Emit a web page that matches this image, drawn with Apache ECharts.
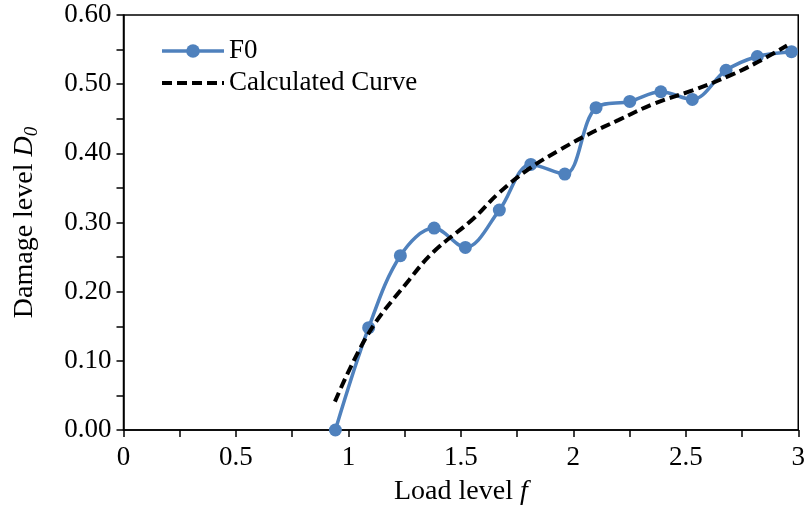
<!DOCTYPE html>
<html>
<head>
<meta charset="utf-8">
<script src="https://cdn.jsdelivr.net/npm/echarts@6/dist/echarts.min.js"></script>
<style>html,body{margin:0;padding:0;background:#fff}#c{width:808px;height:513px}</style>
</head>
<body>
<div id="c"></div>
<script>
// Measured F0 data: load level f, damage level D0
const f0X = [0.942, 1.090, 1.231, 1.381, 1.520, 1.671, 1.811, 1.962, 2.101, 2.251, 2.389, 2.529, 2.679, 2.818, 2.970];
const f0Y = [0.000, 0.148, 0.252, 0.292, 0.264, 0.318, 0.384, 0.370, 0.466, 0.475, 0.489, 0.478, 0.520, 0.540, 0.547];
// Calculated curve
const calcX = [0.94, 1.09, 1.27, 1.38, 1.55, 1.67, 1.80, 1.94, 2.07, 2.20, 2.36, 2.53, 2.70, 2.82, 2.95];
const calcY = [0.041, 0.140, 0.217, 0.258, 0.304, 0.343, 0.377, 0.405, 0.428, 0.448, 0.472, 0.491, 0.513, 0.532, 0.556];
const xTicks = { min: 0, max: 3, interval: 0.5 };
const yTicks = { min: 0, max: 0.6, interval: 0.1 };
const seriesNames = ['F0', 'Calculated Curve'];

const FONT = '"Liberation Serif", "Times New Roman", serif';
const BLUE = '#4F81BD';
const DASH = [10, 5];
const chart = echarts.init(document.getElementById('c'), null, { renderer: 'canvas' });
chart.setOption({
  animation: false,
  backgroundColor: '#fff',
  grid: { left: 123.5, right: 8, top: 15, bottom: 83, show: true, borderColor: '#000', borderWidth: 1.5, backgroundColor: 'transparent' },
  legend: {
    orient: 'vertical', left: 155, top: 31, itemGap: 2, itemWidth: 62, itemHeight: 17,
    textStyle: { fontFamily: FONT, fontSize: 27, color: '#000', lineHeight: 30 },
    data: [
      { name: seriesNames[0], lineStyle: { color: BLUE, width: 3.5 }, itemStyle: { color: BLUE } },
      { name: seriesNames[1], lineStyle: { color: '#000', width: 4, type: DASH }, itemStyle: { opacity: 0 } }
    ]
  },
  xAxis: {
    type: 'value', min: xTicks.min, max: xTicks.max, interval: xTicks.interval,
    name: '{n|Load level }{i|f}', nameLocation: 'middle', nameGap: 48,
    nameTextStyle: { rich: { n: { fontFamily: FONT, fontSize: 28, color: '#000' }, i: { fontFamily: FONT, fontSize: 28, fontStyle: 'italic', color: '#000' } } },
    axisLine: { lineStyle: { color: '#000', width: 1.5 } },
    axisTick: { show: true, length: 7, lineStyle: { color: '#000', width: 1.5 } },
    minorTick: { show: true, splitNumber: 2, length: 7, lineStyle: { color: '#000', width: 1.5 } },
    splitLine: { show: false },
    axisLabel: { fontFamily: FONT, fontSize: 27, color: '#000', margin: 14, formatter: v => String(v) }
  },
  yAxis: {
    type: 'value', min: yTicks.min, max: yTicks.max, interval: yTicks.interval,
    name: '{n|Damage level }{i|D}{s|0}', nameLocation: 'middle', nameGap: 82, nameRotate: 90,
    nameTextStyle: { rich: {
      n: { fontFamily: FONT, fontSize: 28, color: '#000', lineHeight: 34 },
      i: { fontFamily: FONT, fontSize: 28, fontStyle: 'italic', color: '#000', lineHeight: 34 },
      s: { fontFamily: FONT, fontSize: 19, fontStyle: 'italic', color: '#000', verticalAlign: 'bottom', lineHeight: 20 }
    } },
    axisLine: { show: true, lineStyle: { color: '#000', width: 1.5 } },
    axisTick: { show: true, length: 7, lineStyle: { color: '#000', width: 1.5 } },
    minorTick: { show: true, splitNumber: 2, length: 7, lineStyle: { color: '#000', width: 1.5 } },
    splitLine: { show: false },
    axisLabel: { fontFamily: FONT, fontSize: 27, color: '#000', margin: 12, formatter: v => v.toFixed(2) }
  },
  series: [
    {
      name: seriesNames[0], type: 'line', smooth: 0.35,
      data: f0X.map((x, i) => [x, f0Y[i]]),
      symbol: 'circle', symbolSize: 13,
      lineStyle: { color: BLUE, width: 3.5 },
      itemStyle: { color: BLUE }, z: 3
    },
    {
      name: seriesNames[1], type: 'line', smooth: 0.4,
      data: calcX.map((x, i) => [x, calcY[i]]),
      symbol: 'none',
      lineStyle: { color: '#000', width: 4, type: DASH },
      itemStyle: { color: '#000' }, z: 4
    }
  ]
});
</script>
</body>
</html>
